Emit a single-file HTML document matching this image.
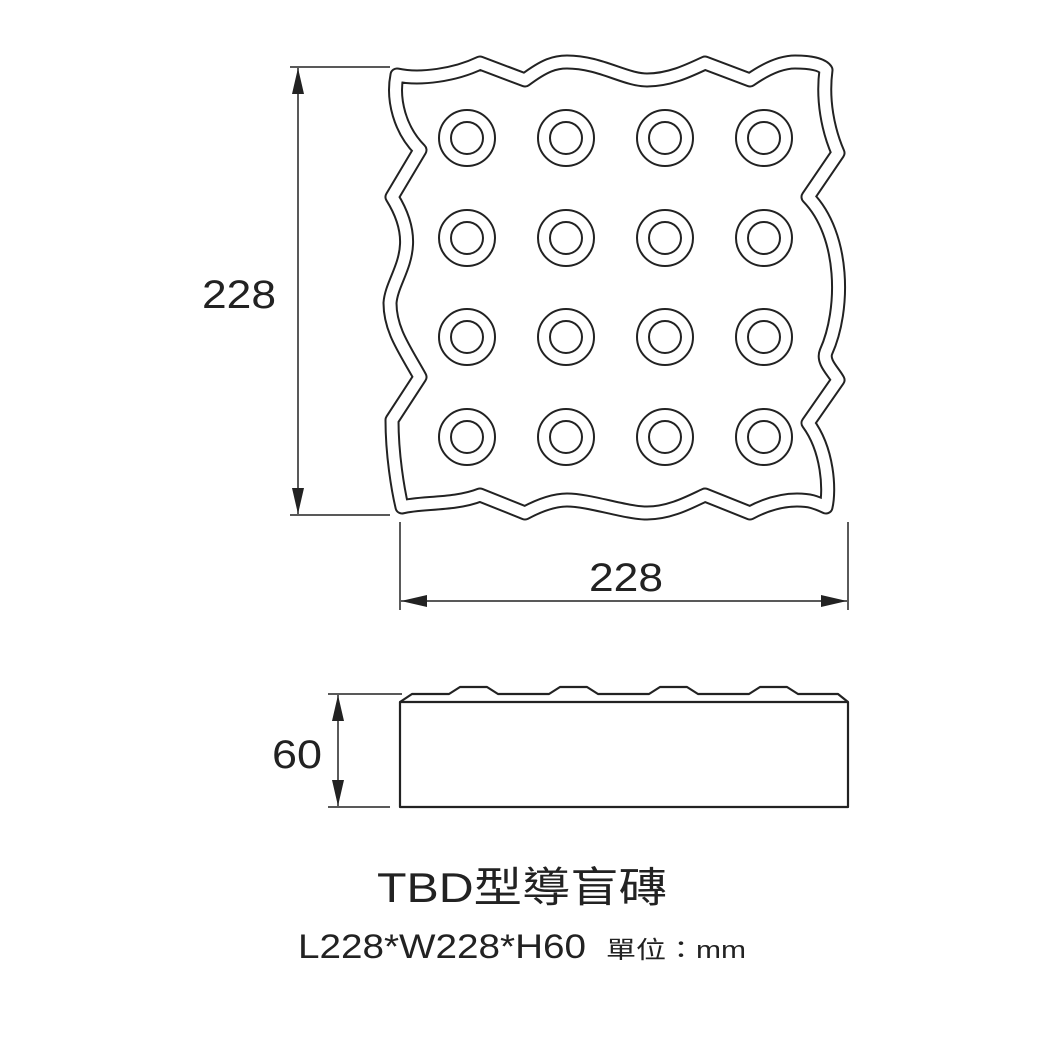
<!DOCTYPE html>
<html><head><meta charset="utf-8"><style>html,body{margin:0;padding:0;background:#fff;}</style></head>
<body>
<svg width="1042" height="1042" viewBox="0 0 1042 1042" xmlns="http://www.w3.org/2000/svg">
<defs>
<marker id="a" viewBox="0 0 10 10" refX="10" refY="5" markerWidth="26" markerHeight="12" markerUnits="userSpaceOnUse" orient="auto-start-reverse" preserveAspectRatio="none"><path d="M0,0 L10,5 L0,10 z" fill="#222"/></marker>
<path id="tile" d="M397,75 C420,80 455,75 480,63 L525,80 C545,65 555,62 567,62 C600,62 625,80 647,80 C670,80 690,70 705,63 L750,80 C770,66 785,62 795,62 C810,62 822,64 826,70 C822,100 828,130 838,153 L808,197 C845,235 845,310 826,352 C822,362 834,372 838,380 L808,423 C828,450 830,490 826,507 C815,502 810,500 797,500 C780,500 765,505 750,513 L705,495 C690,502 670,513 647,513 C625,513 590,500 567,500 C555,500 540,505 525,513 L480,495 C455,505 420,502 402,507 C398,490 392,455 392,420 L420,377 C405,350 390,330 390,303 C392,275 425,250 392,197 L420,150 C400,130 392,100 397,75 Z"/>
</defs>
<g fill="none" stroke-linejoin="round">
<use href="#tile" stroke="#222" stroke-width="15"/>
<use href="#tile" stroke="#fff" stroke-width="11"/>
</g>
<g fill="none" stroke="#222" stroke-width="2">
<g id="row">
<circle cx="467" cy="138" r="28"/><circle cx="467" cy="138" r="16"/>
<circle cx="566" cy="138" r="28"/><circle cx="566" cy="138" r="16"/>
<circle cx="665" cy="138" r="28"/><circle cx="665" cy="138" r="16"/>
<circle cx="764" cy="138" r="28"/><circle cx="764" cy="138" r="16"/>
</g>
<use href="#row" y="100"/><use href="#row" y="199"/><use href="#row" y="299"/>
</g>
<g stroke="#222" stroke-width="1.5" fill="none">
<line x1="290" y1="67" x2="390" y2="67"/>
<line x1="290" y1="515" x2="390" y2="515"/>
<line x1="298" y1="68" x2="298" y2="514" marker-start="url(#a)" marker-end="url(#a)"/>
<line x1="400" y1="522" x2="400" y2="610"/>
<line x1="848" y1="522" x2="848" y2="610"/>
<line x1="401" y1="601" x2="847" y2="601" marker-start="url(#a)" marker-end="url(#a)"/>
<line x1="328" y1="694" x2="402" y2="694"/>
<line x1="328" y1="807" x2="390" y2="807"/>
<line x1="338" y1="695" x2="338" y2="806" marker-start="url(#a)" marker-end="url(#a)"/>
</g>
<g stroke="#222" stroke-width="2.2" fill="none" stroke-linejoin="round">
<rect x="400" y="702" width="448" height="105"/>
<path d="M400,702 L412,694 L449,694 L460,687 L487,687 L498,694 L549,694 L560,687 L587,687 L598,694 L649,694 L660,687 L687,687 L698,694 L749,694 L760,687 L787,687 L798,694 L838,694 L848,702"/>
</g>
<g fill="#222" font-family="'Liberation Sans','Noto Sans CJK TC',sans-serif">
<text x="202" y="308" font-size="40" textLength="74" lengthAdjust="spacingAndGlyphs">228</text>
<text x="589" y="591" font-size="40" textLength="74" lengthAdjust="spacingAndGlyphs">228</text>
<text x="272" y="768" font-size="40" textLength="50" lengthAdjust="spacingAndGlyphs">60</text>
<text x="377" y="902" font-size="42" textLength="290" lengthAdjust="spacingAndGlyphs">TBD型導盲磚</text>
<text x="298" y="958" font-size="34" textLength="288" lengthAdjust="spacingAndGlyphs">L228*W228*H60</text>
<text x="606" y="958" font-size="24" textLength="140" lengthAdjust="spacingAndGlyphs">單位：mm</text>
</g>
</svg>
</body></html>
